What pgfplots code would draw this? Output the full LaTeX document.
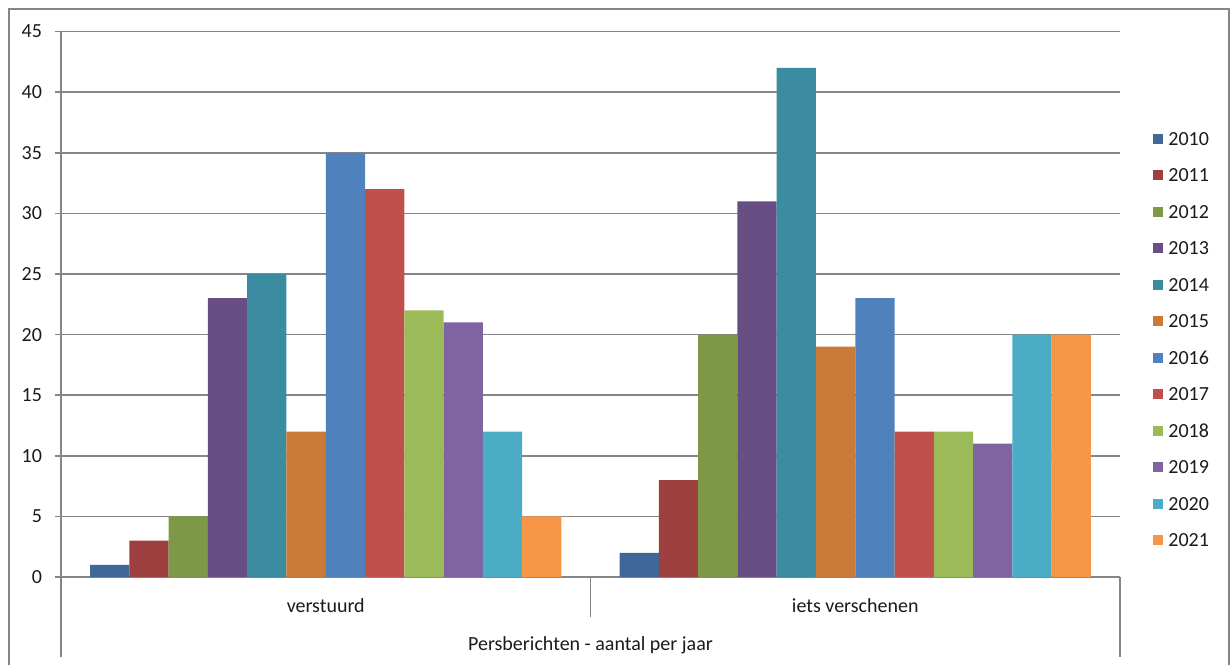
\documentclass[border=0pt]{standalone}
\usepackage{pgfplots}
\pgfplotsset{compat=1.18}
\usepackage{fontspec}
\setmainfont{Carlito}

\definecolor{axgray}{HTML}{868686}
\definecolor{txt}{HTML}{1A1A1A}
\definecolor{c10}{HTML}{3F6797}
\definecolor{c11}{HTML}{9C3F3E}
\definecolor{c12}{HTML}{7D9947}
\definecolor{c13}{HTML}{674F83}
\definecolor{c14}{HTML}{3B8BA1}
\definecolor{c15}{HTML}{CA7A37}
\definecolor{c16}{HTML}{4F81BD}
\definecolor{c17}{HTML}{C0504D}
\definecolor{c18}{HTML}{9BBB59}
\definecolor{c19}{HTML}{8064A2}
\definecolor{c20}{HTML}{4BACC6}
\definecolor{c21}{HTML}{F79646}

% 0 = verstuurd, 1 = iets verschenen
\pgfplotstableread{
cat y2010 y2011 y2012 y2013 y2014 y2015 y2016 y2017 y2018 y2019 y2020 y2021
0   1     3     5     23    25    12    35    32    22    21    12    5
1   2     8     20    31    42    19    23    12    12    11    20    20
}\persdata

\begin{document}
\begin{tikzpicture}[font=\fontsize{10}{12}\selectfont, text=txt]
\useasboundingbox (-30.5pt,-43.5pt) rectangle (584.5pt,288.5pt);
\begin{axis}[
    scale only axis,
    width=529.5pt, height=272.7pt,
    ybar=0pt,
    bar width=0.0742,
    xmin=-0.5, xmax=1.5,
    ymin=0, ymax=45,
    ytick distance=5,
    xtick={0,1},
    xticklabels={verstuurd, iets verschenen},
    xticklabel style={yshift=-4.5pt},
    major x tick style={draw=none},
    axis x line*=bottom,
    axis y line*=left,
    axis line style={draw=axgray, line width=0.75pt, -},
    ymajorgrids,
    grid style={draw=axgray, line width=0.75pt},
    tick align=outside,
    major tick length=3pt,
    major y tick style={draw=axgray, line width=0.75pt},
    yticklabel style={xshift=-3pt},
    /pgf/number format/assume math mode=true,
    xlabel={Persberichten - aantal per jaar},
    xlabel style={at={(axis description cs:0.5,0)}, anchor=center, yshift=-34pt},
    clip=false,
    legend style={
        draw=none, fill=none,
        at={(axis cs:1.5,0)}, anchor=north west,
        xshift=16.5pt, yshift=223pt,
        row sep=11.25pt,
        inner sep=0pt,
        nodes={inner sep=0pt, anchor=base west, text height=7pt, text depth=0pt},
        legend cell align=left,
    },
    legend image code/.code={\fill[#1] (0pt,0.8pt) rectangle (5pt,5.8pt); \path (7.5pt,3pt);},
]
\addplot[fill=c10, draw=none, bar shift=-0.4081] table[x=cat, y=y2010] {\persdata};
\addplot[fill=c11, draw=none, bar shift=-0.3339] table[x=cat, y=y2011] {\persdata};
\addplot[fill=c12, draw=none, bar shift=-0.2597] table[x=cat, y=y2012] {\persdata};
\addplot[fill=c13, draw=none, bar shift=-0.1855] table[x=cat, y=y2013] {\persdata};
\addplot[fill=c14, draw=none, bar shift=-0.1113] table[x=cat, y=y2014] {\persdata};
\addplot[fill=c15, draw=none, bar shift=-0.0371] table[x=cat, y=y2015] {\persdata};
\addplot[fill=c16, draw=none, bar shift=0.0371] table[x=cat, y=y2016] {\persdata};
\addplot[fill=c17, draw=none, bar shift=0.1113] table[x=cat, y=y2017] {\persdata};
\addplot[fill=c18, draw=none, bar shift=0.1855] table[x=cat, y=y2018] {\persdata};
\addplot[fill=c19, draw=none, bar shift=0.2597] table[x=cat, y=y2019] {\persdata};
\addplot[fill=c20, draw=none, bar shift=0.3339] table[x=cat, y=y2020] {\persdata};
\addplot[fill=c21, draw=none, bar shift=0.4081] table[x=cat, y=y2021] {\persdata};
\legend{2010,2011,2012,2013,2014,2015,2016,2017,2018,2019,2020,2021}
% category dividers below the axis
\draw[axgray, line width=0.75pt] (axis cs:-0.5,0) -- ([yshift=-40pt]axis cs:-0.5,0);
\draw[axgray, line width=0.75pt] (axis cs:0.5,0) -- ([yshift=-20pt]axis cs:0.5,0);
\draw[axgray, line width=0.75pt] (axis cs:1.5,0) -- ([yshift=-40pt]axis cs:1.5,0);
\end{axis}
% chart area border
\draw[axgray, line width=0.75pt] (-26pt,-44pt) -- (-26pt,284pt) -- (584pt,284pt) -- (584pt,-44pt);
\end{tikzpicture}
\end{document}
